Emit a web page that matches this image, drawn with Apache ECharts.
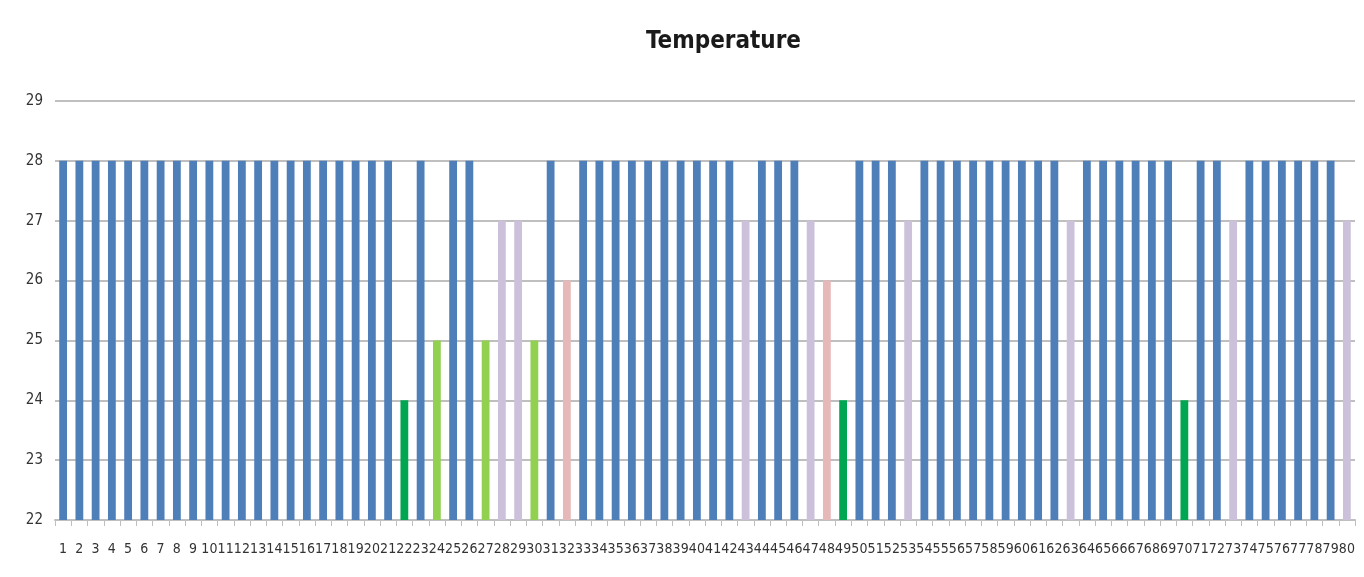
<!DOCTYPE html>
<html>
<head>
<meta charset="utf-8">
<title>Temperature</title>
<script src="https://cdn.jsdelivr.net/npm/echarts@6/dist/echarts.min.js"></script>
<style>
  html, body { margin: 0; padding: 0; background: #fff; }
  #chart { width: 1364px; height: 577px; }
</style>
</head>
<body>
<div id="chart"></div>
<script>
// categories 1..80
const days = ['1','2','3','4','5','6','7','8','9','10','11','12','13','14','15','16','17','18','19','20',
  '21','22','23','24','25','26','27','28','29','30','31','32','33','34','35','36','37','38','39','40',
  '41','42','43','44','45','46','47','48','49','50','51','52','53','54','55','56','57','58','59','60',
  '61','62','63','64','65','66','67','68','69','70','71','72','73','74','75','76','77','78','79','80']

const temps = [
  28, 28, 28, 28, 28, 28, 28, 28, 28, 28,
  28, 28, 28, 28, 28, 28, 28, 28, 28, 28,
  28, 24, 28, 25, 28, 28, 25, 27, 27, 25,
  28, 26, 28, 28, 28, 28, 28, 28, 28, 28,
  28, 28, 27, 28, 28, 28, 27, 26, 24, 28,
  28, 28, 27, 28, 28, 28, 28, 28, 28, 28,
  28, 28, 27, 28, 28, 28, 28, 28, 28, 24,
  28, 28, 27, 28, 28, 28, 28, 28, 28, 27
]

const yTicks = [22, 23, 24, 25, 26, 27, 28, 29]

// colour of a bar depends on its temperature
const levels = [24, 25, 26, 27, 28]
const levelColors = ['#00a651', '#92d050', '#e6b9b8', '#ccc1da', '#4f7fb8']

const narrow = "'Liberation Sans Narrow', 'DejaVu Sans Condensed', 'Roboto Condensed', sans-serif"

const chart = echarts.init(document.getElementById('chart'))

chart.setOption({
  animation: false,
  title: {
    text: 'Temperature',
    left: 641,
    top: 25,
    textStyle: {
      fontFamily: narrow,
      fontSize: 24,
      fontWeight: 'bold',
      color: '#1a1a1a'
    }
  },
  grid: {
    left: 55,
    right: 9,
    top: 101,
    bottom: 57
  },
  xAxis: {
    type: 'category',
    data: days,
    axisLine: { lineStyle: { color: '#bfbfbf', width: 2 } },
    axisTick: { show: true, length: 6, lineStyle: { color: '#bfbfbf' } },
    axisLabel: {
      interval: 0,
      margin: 22,
      fontFamily: narrow,
      fontSize: 14,
      color: '#333'
    }
  },
  yAxis: {
    type: 'value',
    min: yTicks[0],
    max: yTicks[yTicks.length - 1],
    interval: 1,
    axisLine: { show: false },
    axisTick: { show: false },
    axisLabel: {
      margin: 12,
      fontFamily: narrow,
      fontSize: 15,
      color: '#333'
    },
    splitLine: { lineStyle: { color: '#bfbfbf', width: 2 } }
  },
  series: [{
    type: 'bar',
    data: temps,
    barWidth: '48%',
    itemStyle: {
      color: function (p) {
        const i = levels.indexOf(p.value)
        return i >= 0 ? levelColors[i] : levelColors[levelColors.length - 1]
      }
    }
  }]
})
</script>
</body>
</html>
